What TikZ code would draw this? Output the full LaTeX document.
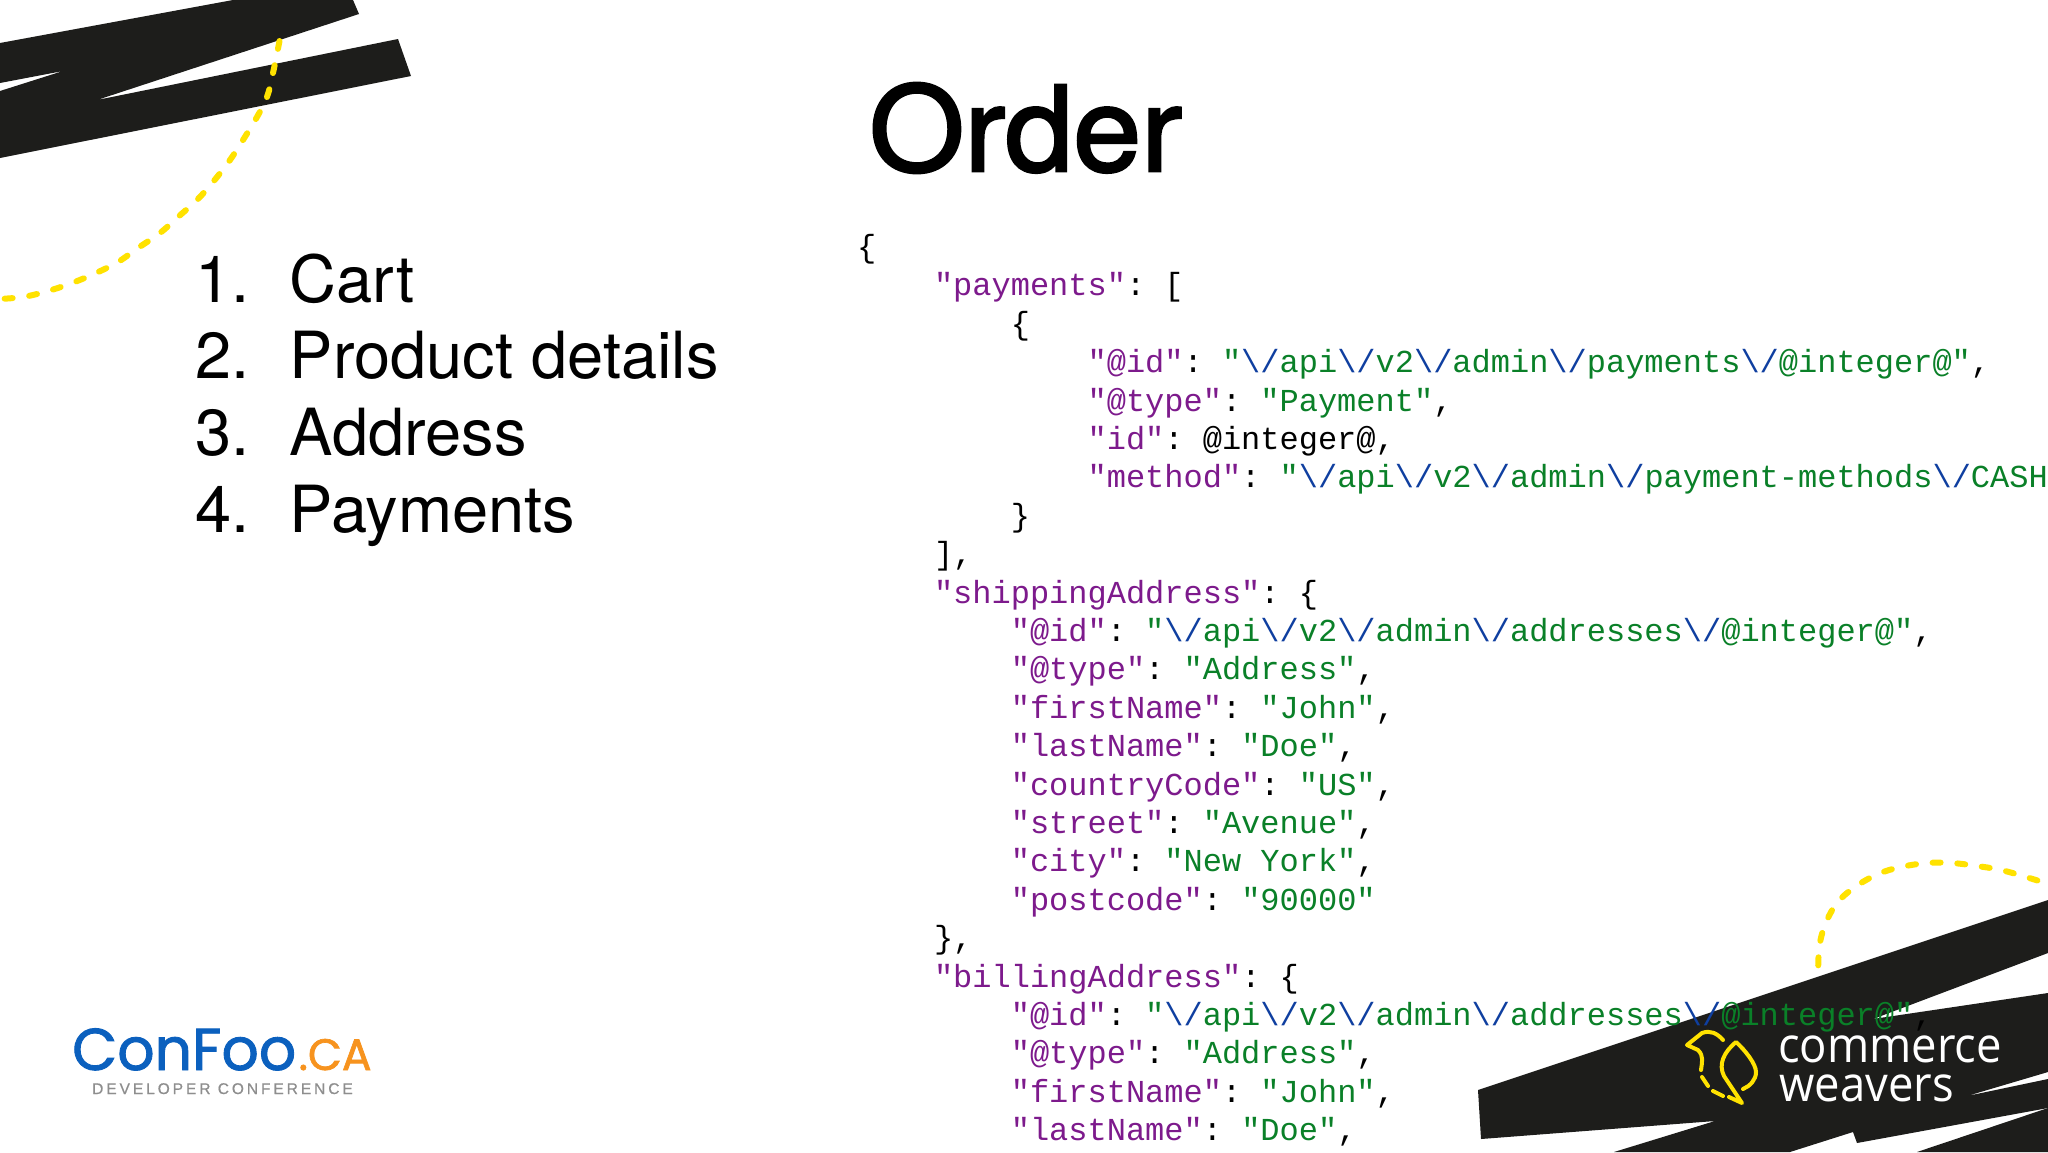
\documentclass[tikz,border=0pt]{standalone}
\usepackage{fontspec}
\newfontfamily\codefont{Liberation Mono}
\newfontfamily\listfont{TeX Gyre Heros}
\newfontfamily\titlefont[FakeBold=2.2]{TeX Gyre Heros}
\newfontfamily\logofont[FakeBold=1.5]{Poppins}
\newfontfamily\devfont[LetterSpace=19,FakeBold=0.6]{Liberation Sans}
\newfontfamily\cwfont{Open Sans}
\definecolor{inkblack}{HTML}{1D1D1B}
\definecolor{dashyellow}{HTML}{FFE200}
\definecolor{ckeycol}{HTML}{7D1A8C}
\definecolor{cstrcol}{HTML}{0A8028}
\definecolor{cslashcol}{HTML}{0F3FA0}
\definecolor{foblue}{HTML}{0B60BE}
\definecolor{foorange}{HTML}{F7931E}
\definecolor{fogray}{HTML}{8E8E8E}
\newcommand\ckey[1]{{\color{ckeycol}#1}}
\newcommand\cstr[1]{{\color{cstrcol}#1}}
\newcommand\csl{{\color{cslashcol}\textbackslash/}}
\newcommand\codeline[3]{\node[codetext] (L#1) at ({857+19.2*#2},{257.5+38.4*#1}) {#3};}
\newcommand\listitem[3]{%
  \node[listtext] (N#1) at (195,#3) {#1.};
  \node[listtext] (T#1) at (289.5,#3) {#2};}
\tikzset{
  codetext/.style={anchor=base west,inner sep=0pt,font=\codefont\fontsize{32}{38}\selectfont\frenchspacing},
  listtext/.style={anchor=base west,inner sep=0pt,font=\listfont\fontsize{65}{76}\selectfont},
  inkshape/.style={fill=inkblack,draw=none},
  dashcurve/.style={draw=dashyellow,line width=6pt,line cap=round,dash pattern=on 8pt off 16.7pt},
  birdline/.style={draw=dashyellow,line width=4pt,line cap=round,line join=round},
  cwtext/.style={anchor=base west,inner sep=0pt,text=white,xscale=0.927,font=\cwfont\fontsize{49}{50}\selectfont},
}
\begin{document}
\begin{tikzpicture}[x=1pt,y=-1pt]
\useasboundingbox (0,0) rectangle (2048,1152);
\clip (0,0) rectangle (2048,1152);
\fill[white] (0,0) rectangle (2048,1152);
% bottom-right dashed arc (behind the brush stroke)
\draw[dashcurve] plot[smooth,tension=0.6] coordinates {(1818,990) (1819,950) (1825,925) (1837,903) (1855,887) (1878,874) (1901,867) (1927,863) (1952,863) (1977,866) (2001,870) (2026,877) (2052,885)};
% brush strokes
\fill[inkshape] (0,43) -- (233,0) -- (353,0) -- (359,14) -- (97,100) -- (398,39) -- (411,76) -- (0,158) -- (0,91) -- (63,71) -- (0,83) -- cycle;
\fill[inkshape] (1478,1090) -- (2048,900) -- (2048,953) -- (1873,1019) -- (2048,993) -- (2048,1072) -- (1967,1096) -- (2048,1079) -- (2048,1108) -- (1857,1143) -- (1853,1132) -- (1790,1152) -- (1614,1152) -- (1715,1121) -- (1481,1139) -- cycle;
\fill[inkshape] (1917,1152) -- (2048,1108) -- (2048,1152) -- cycle;
% top-left dashed arc
\draw[dashcurve] plot[smooth,tension=0.6] coordinates {(279.5,41) (273,73) (267,97) (257,117) (243,140) (230,160) (213,182) (197,200) (178,217) (160,233) (138,248) (118,262) (96,273) (72,283) (48,291) (23,297) (-2,299)};
% title
\node[anchor=base west,inner sep=0pt,xscale=1.037,font=\titlefont\fontsize{118}{130}\selectfont] (title) at (869,171) {Order};
% list
\listitem{1}{Cart}{302}
\listitem{2}{Product details}{378.5}
\listitem{3}{Address}{455}
\listitem{4}{Payments}{532}
% code
\codeline{0}{0}{\{}
\codeline{1}{4}{\ckey{"payments"}: [}
\codeline{2}{8}{\{}
\codeline{3}{12}{\ckey{"@id"}: \cstr{"}\csl\cstr{api}\csl\cstr{v2}\csl\cstr{admin}\csl\cstr{payments}\csl\cstr{@integer@"},}
\codeline{4}{12}{\ckey{"@type"}: \cstr{"Payment"},}
\codeline{5}{12}{\ckey{"id"}: @integer@,}
\codeline{6}{12}{\ckey{"method"}: \cstr{"}\csl\cstr{api}\csl\cstr{v2}\csl\cstr{admin}\csl\cstr{payment-methods}\csl\cstr{CASH"},}
\codeline{7}{8}{\}}
\codeline{8}{4}{],}
\codeline{9}{4}{\ckey{"shippingAddress"}: \{}
\codeline{10}{8}{\ckey{"@id"}: \cstr{"}\csl\cstr{api}\csl\cstr{v2}\csl\cstr{admin}\csl\cstr{addresses}\csl\cstr{@integer@"},}
\codeline{11}{8}{\ckey{"@type"}: \cstr{"Address"},}
\codeline{12}{8}{\ckey{"firstName"}: \cstr{"John"},}
\codeline{13}{8}{\ckey{"lastName"}: \cstr{"Doe"},}
\codeline{14}{8}{\ckey{"countryCode"}: \cstr{"US"},}
\codeline{15}{8}{\ckey{"street"}: \cstr{"Avenue"},}
\codeline{16}{8}{\ckey{"city"}: \cstr{"New York"},}
\codeline{17}{8}{\ckey{"postcode"}: \cstr{"90000"}}
\codeline{18}{4}{\},}
\codeline{19}{4}{\ckey{"billingAddress"}: \{}
\codeline{20}{8}{\ckey{"@id"}: \cstr{"}\csl\cstr{api}\csl\cstr{v2}\csl\cstr{admin}\csl\cstr{addresses}\csl\cstr{@integer@"},}
\codeline{21}{8}{\ckey{"@type"}: \cstr{"Address"},}
\codeline{22}{8}{\ckey{"firstName"}: \cstr{"John"},}
\codeline{23}{8}{\ckey{"lastName"}: \cstr{"Doe"},}
% ConFoo logo
\node[anchor=base west,inner sep=0pt,xscale=0.99,text=foblue,font=\logofont\fontsize{59}{60}\selectfont] (confoo) at (72,1070) {ConFoo};
\node[anchor=base west,inner sep=0pt,text=foorange,font=\logofont\fontsize{44}{46}\selectfont] (ca) at (298.5,1070) {.CA};
\node[anchor=base west,inner sep=0pt,text=fogray,font=\devfont\fontsize{15.5}{16}\selectfont] (dev) at (92,1094) {DEVELOPER CONFERENCE};
% commerce weavers logo
\draw[birdline] (1723,1040) .. controls (1717,1033) and (1710,1030) .. (1702,1033) -- (1687,1045) -- (1698,1050) .. controls (1704,1056) and (1702,1062) .. (1701,1070);
\draw[birdline] (1702,1077) -- (1708,1086);
\draw[birdline] (1713,1091) -- (1723,1096);
\draw[birdline] (1729,1097) -- (1742,1103) -- (1724,1076) .. controls (1718,1064) and (1724,1052) .. (1736,1042) .. controls (1745,1050) and (1756,1064) .. (1756,1072) .. controls (1756,1080) and (1750,1086) .. (1743,1089);
\node[cwtext] (cw1) at (1778,1062) {commerce};
\node[cwtext] (cw2) at (1779,1101) {weavers};
\end{tikzpicture}
\end{document}
